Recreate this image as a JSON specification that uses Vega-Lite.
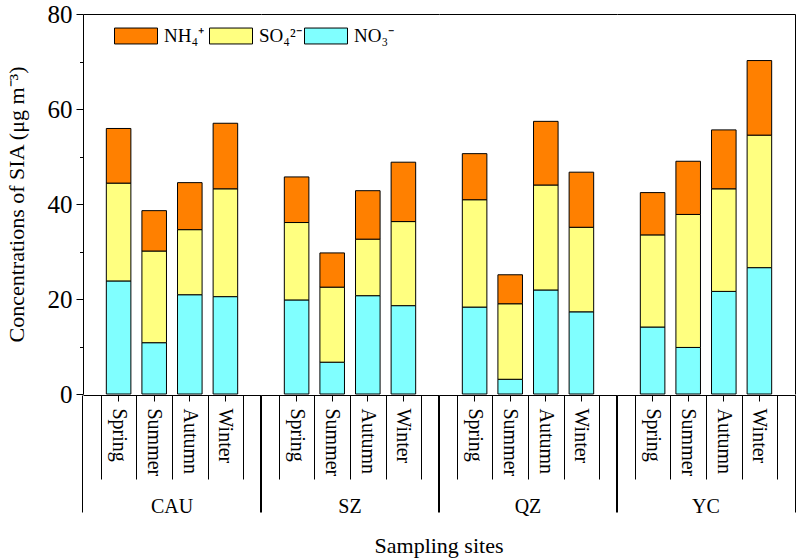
{
  "$schema": "https://vega.github.io/schema/vega-lite/v6.json",
  "padding": {"left": 5, "top": 2, "right": 3, "bottom": 5},
  "config": {
    "font": "Liberation Serif",
    "view": {"stroke": null},
    "axis": {"domainColor": "black", "tickColor": "black", "labelColor": "black", "titleColor": "black", "grid": false, "labelFont": "Liberation Serif", "titleFont": "Liberation Serif"}
  },
  "data": {"values": [
    {"site": "CAU", "season": "Spring", "ion": "NO₃⁻", "value": 23.8},
    {"site": "CAU", "season": "Spring", "ion": "SO₄²⁻", "value": 20.6},
    {"site": "CAU", "season": "Spring", "ion": "NH₄⁺", "value": 11.5},
    {"site": "CAU", "season": "Summer", "ion": "NO₃⁻", "value": 10.8},
    {"site": "CAU", "season": "Summer", "ion": "SO₄²⁻", "value": 19.3},
    {"site": "CAU", "season": "Summer", "ion": "NH₄⁺", "value": 8.5},
    {"site": "CAU", "season": "Autumn", "ion": "NO₃⁻", "value": 20.9},
    {"site": "CAU", "season": "Autumn", "ion": "SO₄²⁻", "value": 13.7},
    {"site": "CAU", "season": "Autumn", "ion": "NH₄⁺", "value": 9.9},
    {"site": "CAU", "season": "Winter", "ion": "NO₃⁻", "value": 20.5},
    {"site": "CAU", "season": "Winter", "ion": "SO₄²⁻", "value": 22.7},
    {"site": "CAU", "season": "Winter", "ion": "NH₄⁺", "value": 13.8},
    {"site": "SZ", "season": "Spring", "ion": "NO₃⁻", "value": 19.8},
    {"site": "SZ", "season": "Spring", "ion": "SO₄²⁻", "value": 16.3},
    {"site": "SZ", "season": "Spring", "ion": "NH₄⁺", "value": 9.6},
    {"site": "SZ", "season": "Summer", "ion": "NO₃⁻", "value": 6.7},
    {"site": "SZ", "season": "Summer", "ion": "SO₄²⁻", "value": 15.8},
    {"site": "SZ", "season": "Summer", "ion": "NH₄⁺", "value": 7.2},
    {"site": "SZ", "season": "Autumn", "ion": "NO₃⁻", "value": 20.7},
    {"site": "SZ", "season": "Autumn", "ion": "SO₄²⁻", "value": 11.9},
    {"site": "SZ", "season": "Autumn", "ion": "NH₄⁺", "value": 10.2},
    {"site": "SZ", "season": "Winter", "ion": "NO₃⁻", "value": 18.6},
    {"site": "SZ", "season": "Winter", "ion": "SO₄²⁻", "value": 17.7},
    {"site": "SZ", "season": "Winter", "ion": "NH₄⁺", "value": 12.5},
    {"site": "QZ", "season": "Spring", "ion": "NO₃⁻", "value": 18.3},
    {"site": "QZ", "season": "Spring", "ion": "SO₄²⁻", "value": 22.6},
    {"site": "QZ", "season": "Spring", "ion": "NH₄⁺", "value": 9.7},
    {"site": "QZ", "season": "Summer", "ion": "NO₃⁻", "value": 3.1},
    {"site": "QZ", "season": "Summer", "ion": "SO₄²⁻", "value": 15.9},
    {"site": "QZ", "season": "Summer", "ion": "NH₄⁺", "value": 6.1},
    {"site": "QZ", "season": "Autumn", "ion": "NO₃⁻", "value": 21.9},
    {"site": "QZ", "season": "Autumn", "ion": "SO₄²⁻", "value": 22.1},
    {"site": "QZ", "season": "Autumn", "ion": "NH₄⁺", "value": 13.4},
    {"site": "QZ", "season": "Winter", "ion": "NO₃⁻", "value": 17.3},
    {"site": "QZ", "season": "Winter", "ion": "SO₄²⁻", "value": 17.8},
    {"site": "QZ", "season": "Winter", "ion": "NH₄⁺", "value": 11.6},
    {"site": "YC", "season": "Spring", "ion": "NO₃⁻", "value": 14.1},
    {"site": "YC", "season": "Spring", "ion": "SO₄²⁻", "value": 19.4},
    {"site": "YC", "season": "Spring", "ion": "NH₄⁺", "value": 8.9},
    {"site": "YC", "season": "Summer", "ion": "NO₃⁻", "value": 9.8},
    {"site": "YC", "season": "Summer", "ion": "SO₄²⁻", "value": 28.0},
    {"site": "YC", "season": "Summer", "ion": "NH₄⁺", "value": 11.2},
    {"site": "YC", "season": "Autumn", "ion": "NO₃⁻", "value": 21.6},
    {"site": "YC", "season": "Autumn", "ion": "SO₄²⁻", "value": 21.6},
    {"site": "YC", "season": "Autumn", "ion": "NH₄⁺", "value": 12.4},
    {"site": "YC", "season": "Winter", "ion": "NO₃⁻", "value": 26.6},
    {"site": "YC", "season": "Winter", "ion": "SO₄²⁻", "value": 27.9},
    {"site": "YC", "season": "Winter", "ion": "NH₄⁺", "value": 15.7}
  ]},
  "transform": [
    {"calculate": "indexof(['NO₃⁻', 'SO₄²⁻', 'NH₄⁺'], datum.ion)", "as": "stackRank"}
  ],
  "facet": {
    "column": {
      "field": "site", "type": "nominal", "sort": ["CAU", "SZ", "QZ", "YC"],
      "title": "Sampling sites",
      "header": {
        "labelOrient": "bottom", "titleOrient": "bottom",
        "labelFont": "Liberation Serif", "labelFontSize": 20, "labelColor": "black", "labelPadding": -16,
        "titleFont": "Liberation Serif", "titleFontSize": 22, "titleFontWeight": "normal", "titleColor": "black", "titlePadding": 9
      }
    }
  },
  "spacing": 0,
  "spec": {
    "width": 178,
    "height": 380,
    "resolve": {"axis": {"x": "independent", "y": "independent"}},
    "layer": [
      {
        "mark": {"type": "bar", "stroke": "black", "strokeWidth": 1, "width": {"band": 0.69}},
        "encoding": {
          "x": {"field": "season", "type": "nominal", "sort": ["Spring", "Summer", "Autumn", "Winter"],
            "scale": {"paddingInner": 0, "paddingOuter": 0.5},
            "axis": {"orient": "bottom", "title": null, "labels": false, "tickBand": "extent", "tickSize": 84, "domain": true, "domainWidth": 1.2}},
          "y": {"field": "value", "type": "quantitative", "stack": "zero",
            "scale": {"domain": [0, 80], "nice": false},
            "axis": {"orient": "left", "values": [0, 20, 40, 60, 80], "tickSize": 7, "labelFontSize": 25, "labelPadding": 4,
              "title": "Concentrations of SIA (μg m⁻³)", "titleFontSize": 22, "titleFontWeight": "normal", "titlePadding": 19}},
          "color": {"field": "ion", "type": "nominal",
            "scale": {"domain": ["NH₄⁺", "SO₄²⁻", "NO₃⁻"], "range": ["#FF8000", "#FFFF80", "#80FFFF"]},
            "legend": {"orient": "none", "legendX": 31, "legendY": 0, "direction": "horizontal", "title": null,
              "symbolType": "M-1,-0.37H1V0.37H-1Z", "symbolSize": 1849, "symbolStrokeColor": "black", "symbolStrokeWidth": 1,
              "labelFont": "Liberation Serif", "labelFontSize": 19, "labelColor": "black", "labelOffset": 6,
              "columnPadding": 0, "gridAlign": "all"}},
          "order": {"field": "stackRank", "type": "quantitative", "sort": "ascending"}
        }
      },
      {
        "mark": {"type": "bar", "opacity": 0},
        "encoding": {
          "x": {"field": "season", "type": "nominal", "sort": ["Spring", "Summer", "Autumn", "Winter"],
            "axis": {"orient": "bottom", "title": null, "values": ["Spring"], "bandPosition": -0.5, "tickSize": 117, "labels": false, "domain": false}},
          "y": {"field": "value", "type": "quantitative", "stack": "zero",
            "axis": {"orient": "right", "title": null, "ticks": false, "labels": false, "domain": true}}
        }
      },
      {
        "mark": {"type": "bar", "opacity": 0},
        "encoding": {
          "x": {"field": "season", "type": "nominal", "sort": ["Spring", "Summer", "Autumn", "Winter"],
            "axis": {"orient": "bottom", "title": null, "values": ["Winter"], "bandPosition": 1.5, "tickSize": 117, "labels": false, "domain": false}},
          "y": {"field": "value", "type": "quantitative", "stack": "zero",
            "axis": {"orient": "left", "title": null, "values": [10, 30, 50, 70], "tickSize": 3.5, "labels": false, "domain": false}}
        }
      },
      {
        "mark": {"type": "bar", "opacity": 0},
        "encoding": {
          "x": {"field": "season", "type": "nominal", "sort": ["Spring", "Summer", "Autumn", "Winter"],
            "axis": {"orient": "bottom", "title": null, "tickSize": 6, "labelAngle": 90, "labelAlign": "left", "labelBaseline": "middle",
              "labelFontSize": 20, "labelPadding": 7, "domain": false}},
          "y": {"field": "value", "type": "quantitative", "stack": "zero", "axis": null}
        }
      },
      {
        "mark": {"type": "bar", "opacity": 0},
        "encoding": {
          "x": {"field": "season", "type": "nominal", "sort": ["Spring", "Summer", "Autumn", "Winter"],
            "axis": {"orient": "top", "title": null, "ticks": false, "labels": false, "domain": true}},
          "y": {"field": "value", "type": "quantitative", "stack": "zero", "axis": null}
        }
      }
    ]
  }
}
